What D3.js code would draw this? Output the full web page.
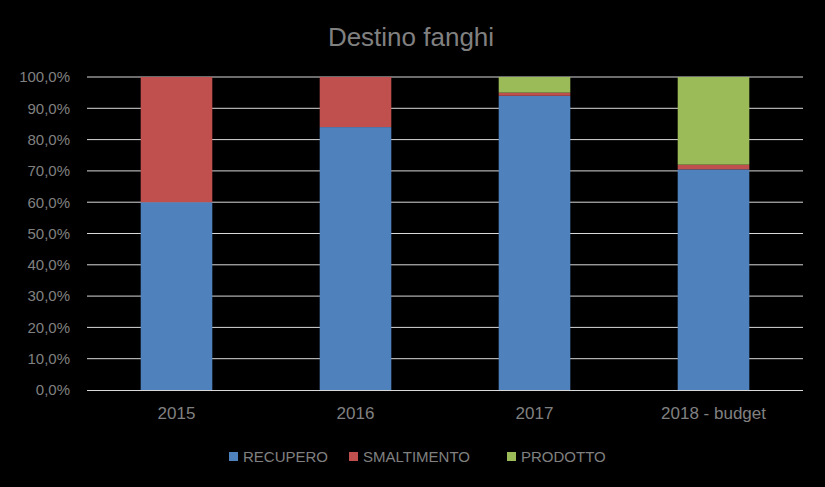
<!DOCTYPE html>
<html><head><meta charset="utf-8">
<script src="https://cdn.jsdelivr.net/npm/d3@7"></script>
<style>body{margin:0;background:#000;}svg{display:block;}</style>
</head><body>
<svg id="c" width="825" height="487"></svg>
<script>
const categories = ["2015", "2016", "2017", "2018 - budget"];
const seriesNames = ["RECUPERO", "SMALTIMENTO", "PRODOTTO"];
const recupero = [60.0, 84.0, 94.0, 70.5];
const smaltimento = [40.0, 16.0, 1.0, 1.5];
const prodotto = [0.0, 0.0, 5.0, 28.0];
const colors = ["#4f81bd", "#c0504d", "#9bbb59"];
const yTicks = [0, 10, 20, 30, 40, 50, 60, 70, 80, 90, 100];

const font = "'Liberation Sans Narrow', 'Liberation Sans', sans-serif";
const svg = d3.select("#c");
svg.append("rect").attr("width", 825).attr("height", 487).attr("fill", "#000");

const m = {left: 87, right: 803, top: 77, bottom: 390};
const x = d3.scaleBand().domain(categories).range([m.left, m.right]).paddingInner(0.6).paddingOuter(0.3);
const y = d3.scaleLinear().domain([0, 100]).range([m.bottom, m.top]);

const rows = categories.map((c, i) => ({cat: c, RECUPERO: recupero[i], SMALTIMENTO: smaltimento[i], PRODOTTO: prodotto[i]}));
const stack = d3.stack().keys(seriesNames)(rows);

// gridlines
svg.append("g").selectAll("line").data(yTicks.filter(t => t > 0)).join("line")
  .attr("x1", m.left).attr("x2", m.right)
  .attr("y1", d => y(d)).attr("y2", d => y(d))
  .attr("stroke", "#d9d9d9").attr("stroke-width", 1);

// bars
svg.append("g").selectAll("g").data(stack).join("g")
  .attr("fill", (d, i) => colors[i])
  .selectAll("rect").data(d => d).join("rect")
  .attr("x", d => x(d.data.cat))
  .attr("width", x.bandwidth())
  .attr("y", d => y(d[1]))
  .attr("height", d => y(d[0]) - y(d[1]));

// y axis labels
const fmt = v => v.toFixed(1).replace(".", ",") + "%";
const yAxis = d3.axisLeft(y).tickValues(yTicks).tickFormat(fmt).tickSize(0).tickPadding(17);
const ga = svg.append("g").attr("transform", `translate(${m.left},0)`).call(yAxis);
ga.select(".domain").remove();
ga.selectAll("text").attr("fill", "#808080").style("font-family", font).style("font-size", "15px");

// x axis
const xAxis = d3.axisBottom(x).tickSize(0).tickPadding(17);
const gx = svg.append("g").attr("transform", `translate(0,${m.bottom})`).call(xAxis);
gx.select(".domain").attr("stroke", "#d9d9d9").attr("d", `M${m.left},0.5H${m.right}`);
gx.selectAll("text").attr("fill", "#808080").style("font-family", font).style("font-size", "17px");

// title
svg.append("text").attr("x", 411).attr("y", 46).attr("text-anchor", "middle")
  .attr("fill", "#808080").style("font-family", font).style("font-size", "26px").text("Destino fanghi");

// legend
const legX = [229, 349, 507];
const leg = svg.append("g").selectAll("g").data(seriesNames).join("g")
  .attr("transform", (d, i) => `translate(${legX[i]},452)`);
leg.append("rect").attr("width", 9).attr("height", 9).attr("fill", (d, i) => colors[i]);
leg.append("text").attr("x", 14).attr("y", 10).attr("fill", "#808080")
  .style("font-family", font).style("font-size", "15px").text(d => d);
</script>
</body></html>
